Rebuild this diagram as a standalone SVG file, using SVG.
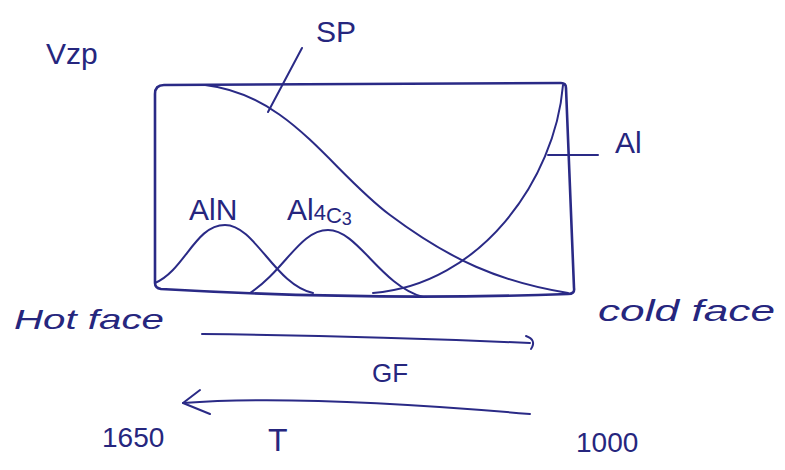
<svg xmlns="http://www.w3.org/2000/svg" width="785" height="470" viewBox="0 0 785 470">
<style>
.ink{fill:none;stroke:#2a2a86;stroke-width:2;stroke-linecap:round;stroke-linejoin:round}
.box{stroke-width:2.6}
.t{font-family:"Liberation Sans","DejaVu Sans",sans-serif;fill:#26267e}
.hw{font-style:italic}
</style>
<rect width="785" height="470" fill="#ffffff"/>
<g id="chart-frame">
<path class="ink box" d="M155,283 L155,94 Q155,85 164,85 L561,83 Q566,83 566,88 L574,288 Q575,294 568,294 Q370,301 161,289 Q155,288 155,283 Z"/>
</g>
<g id="curve-SP">
<path class="ink" d="M205,85 C290,95 330,170 390,215 S500,282 568,293"/>
</g>
<g id="curve-Al">
<path class="ink" d="M373,293 C480,285 555,180 563,85"/>
</g>
<g id="curve-AlN">
<path class="ink" d="M155,283 C185,270 195,225 225,225 C255,225 275,285 313,293"/>
</g>
<g id="curve-Al4C3">
<path class="ink" d="M250,293 C285,270 300,230 328,230 C358,230 380,285 423,297"/>
</g>
<g id="connectors">
<path class="ink" d="M302,48 L268,112"/>
<path class="ink" d="M548,155 L598,155"/>
<path class="ink" d="M202,334 Q370,336 530,343"/>
<path class="ink" d="M526,336 Q537,340 531,349"/>
<path class="ink" d="M530,414 Q300,394 183,403"/>
<path class="ink" d="M200,390 L183,403 L210,414"/>
</g>
<g id="labels">
<text class="t" x="46" y="64" font-size="30">Vzp</text>
<text class="t" x="316" y="42" font-size="30">SP</text>
<text class="t" x="615" y="153" font-size="30">Al</text>
<text class="t" x="189" y="220" font-size="30">AlN</text>
<text class="t" x="287" y="220" font-size="30">Al<tspan font-size="22">4</tspan><tspan font-size="22" dy="3">C</tspan><tspan font-size="18" dy="2">3</tspan></text>
<text class="t hw" x="14" y="329" font-size="28" textLength="150" lengthAdjust="spacingAndGlyphs">Hot face</text>
<text class="t hw" x="598" y="321" font-size="29" textLength="177" lengthAdjust="spacingAndGlyphs">cold face</text>
<text class="t" x="372" y="382" font-size="26">GF</text>
<text class="t" x="102" y="447" font-size="28">1650</text>
<text class="t" x="268" y="451" font-size="32">T</text>
<text class="t" x="576" y="452" font-size="28">1000</text>
</g>
</svg>
